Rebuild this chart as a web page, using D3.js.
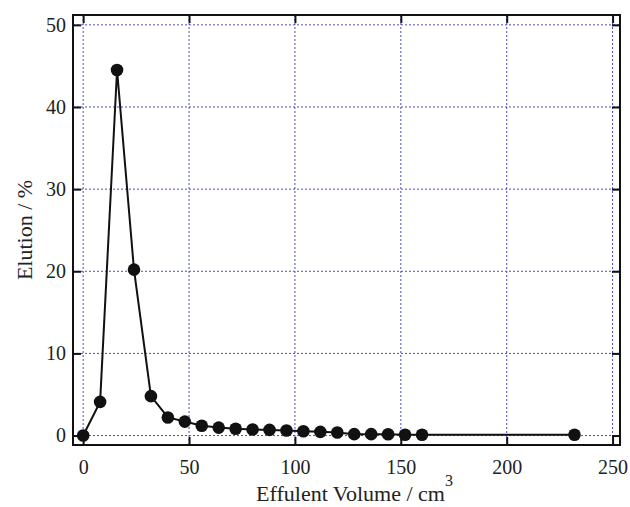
<!DOCTYPE html>
<html>
<head>
<meta charset="utf-8">
<script src="https://cdn.jsdelivr.net/npm/d3@7"></script>
<style>
  svg, svg text, svg tspan { font-family: 'Liberation Serif', 'Times New Roman', serif !important; }
</style>
</head>
<body style="margin:0">
<svg id="chart" width="630" height="507"></svg>
<script>
// effluent volume (cm3) and elution (%)
const volume = [0, 8, 16, 24, 32, 40, 48, 56, 64, 72, 80, 88, 96, 104, 112, 120, 128, 136, 144, 152, 160, 232];
const elution = [0, 4.1, 44.5, 20.2, 4.8, 2.2, 1.7, 1.2, 0.97, 0.82, 0.73, 0.69, 0.61, 0.53, 0.45, 0.37, 0.17, 0.17, 0.15, 0.1, 0.1, 0.1];
const xTicks = [0, 50, 100, 150, 200, 250];
const yTicks = [0, 10, 20, 30, 40, 50];

const margin = {top: 15, right: 10, bottom: 62, left: 73};
const W = 630, H = 507;
const w = W - margin.left - margin.right;
const h = H - margin.top - margin.bottom;

const svg = d3.select('#chart');
const g = svg.append('g').attr('transform', `translate(${margin.left},${margin.top})`);

const x = d3.scaleLinear().domain([-4.8, 253.5]).range([0, w]);
const y = d3.scaleLinear().domain([-1.15, 51.2]).range([h, 0]);

// grid
g.append('g').selectAll('line').data(xTicks).join('line')
  .attr('x1', d => x(d)).attr('x2', d => x(d))
  .attr('y1', 0).attr('y2', h)
  .attr('stroke', '#4a4ad0').attr('stroke-width', 1).attr('stroke-dasharray', '2,2');
g.append('g').selectAll('line').data(yTicks).join('line')
  .attr('y1', d => y(d)).attr('y2', d => y(d))
  .attr('x1', 0).attr('x2', w)
  .attr('stroke', '#4a4ad0').attr('stroke-width', 1).attr('stroke-dasharray', '2,2');

// axes with inward ticks
const tickLen = 8;
const styleAxis = sel => {
  sel.attr('font-family', null).attr('font-size', null);
  sel.select('.domain').remove();
  sel.selectAll('.tick line').attr('stroke', '#111').attr('stroke-width', 2);
  sel.selectAll('text').attr('fill', '#222').style('font-size', '20px');
};
g.append('g').attr('transform', `translate(0,${h})`)
  .call(d3.axisBottom(x).tickValues(xTicks).tickSize(-tickLen).tickPadding(15))
  .call(styleAxis);
g.append('g')
  .call(d3.axisTop(x).tickValues(xTicks).tickSize(-tickLen).tickFormat(''))
  .call(styleAxis);
g.append('g')
  .call(d3.axisLeft(y).tickValues(yTicks).tickSize(-tickLen).tickPadding(7))
  .call(styleAxis);
g.append('g').attr('transform', `translate(${w},0)`)
  .call(d3.axisRight(y).tickValues(yTicks).tickSize(-tickLen).tickFormat(''))
  .call(styleAxis);

// frame
g.append('rect').attr('width', w).attr('height', h)
  .attr('fill', 'none').attr('stroke', '#111').attr('stroke-width', 2);

// series
const pts = volume.map((v, i) => ({x: v, y: elution[i]}));
g.append('path').datum(pts)
  .attr('fill', 'none').attr('stroke', '#111').attr('stroke-width', 2)
  .attr('d', d3.line().x(d => x(d.x)).y(d => y(d.y)));
g.append('g').selectAll('circle').data(pts).join('circle')
  .attr('cx', d => x(d.x)).attr('cy', d => y(d.y)).attr('r', 6.3)
  .attr('fill', '#111');

// axis titles
const xt = svg.append('text')
  .attr('x', margin.left + w / 2 + 8).attr('y', 501)
  .attr('text-anchor', 'middle').attr('fill', '#222')
  .style('font-size', '22px');
xt.append('tspan').text('Effulent Volume / cm');
xt.append('tspan').attr('dy', -15).style('font-size', '16px').text('3');

svg.append('text')
  .attr('transform', `translate(32,${margin.top + h / 2}) rotate(-90)`)
  .attr('text-anchor', 'middle').attr('fill', '#222')
  .style('font-size', '22px')
  .text('Elution / %');
</script>
</body>
</html>
